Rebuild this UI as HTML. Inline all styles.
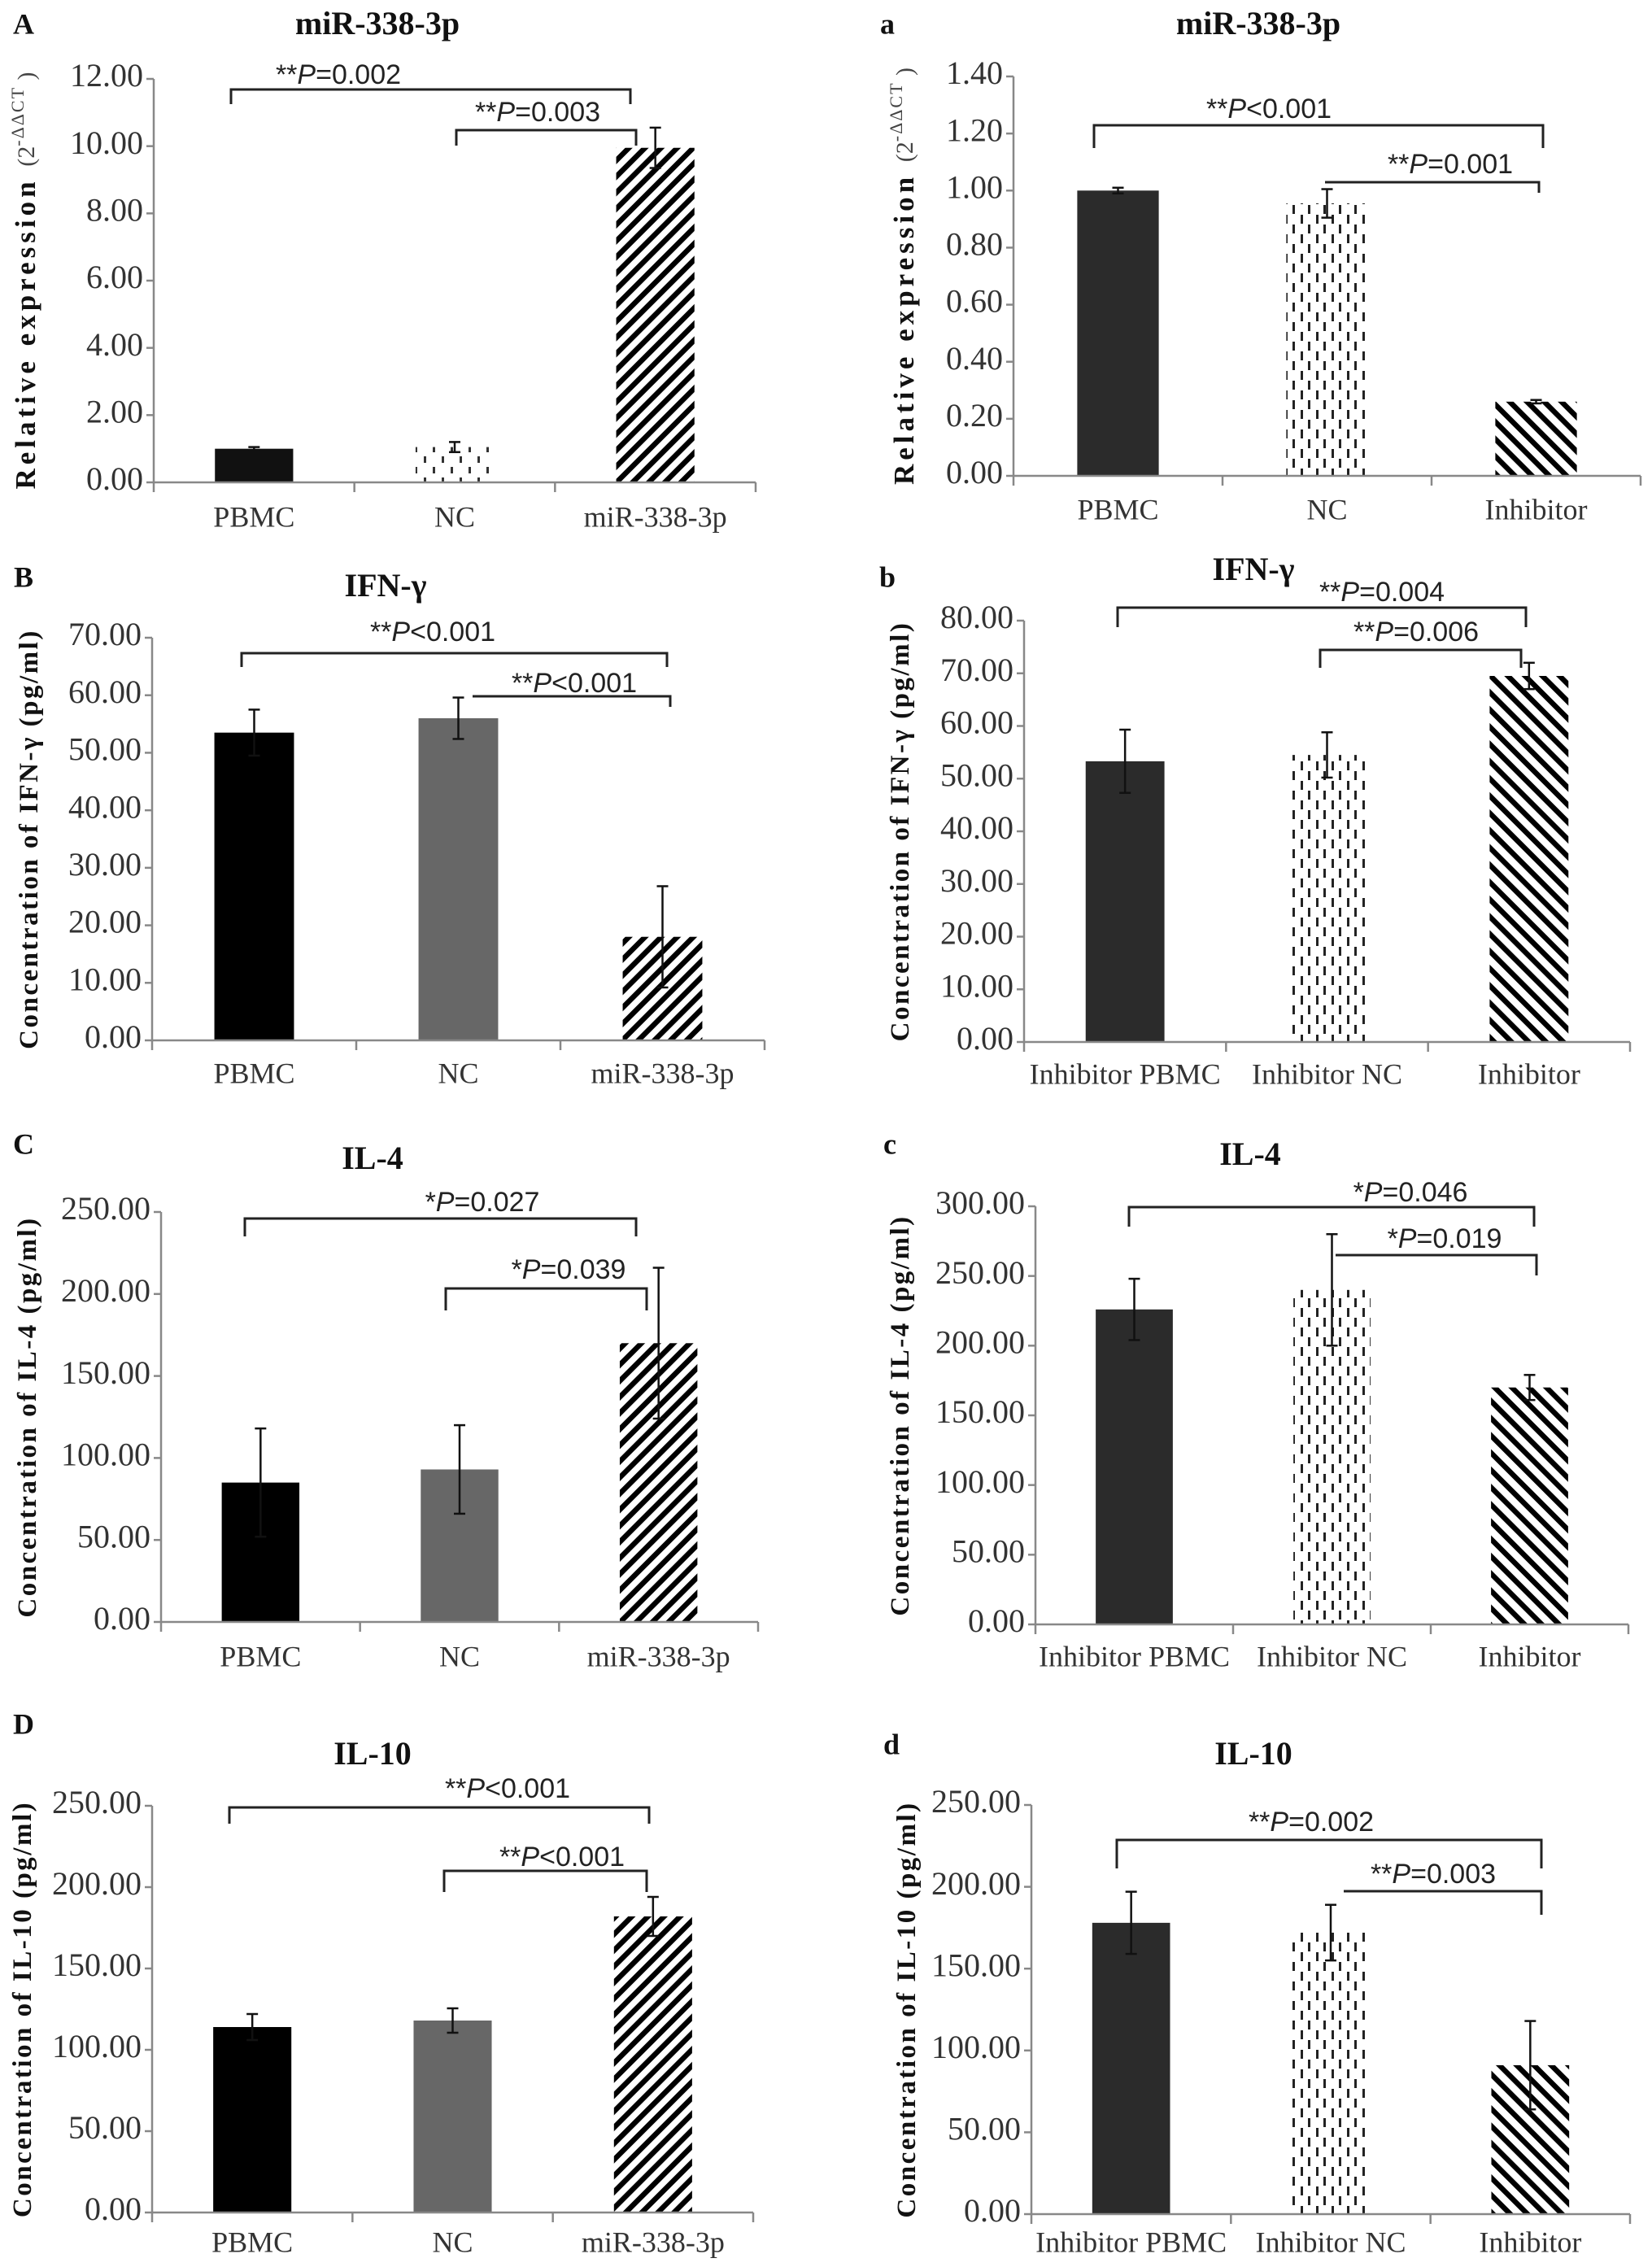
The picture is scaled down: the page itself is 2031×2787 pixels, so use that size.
<!DOCTYPE html>
<html><head><meta charset="utf-8"><style>
html,body{margin:0;padding:0;background:#fff}
svg{display:block}
</style></head><body>
<svg id="fig" xmlns="http://www.w3.org/2000/svg" width="2031" height="2787" viewBox="0 0 2031 2787">
<defs>
<pattern id="hatchF" patternUnits="userSpaceOnUse" width="14" height="14" patternTransform="rotate(45)"><rect x="0" y="0" width="6.5" height="14" fill="#000"/></pattern>
<pattern id="hatchB" patternUnits="userSpaceOnUse" width="15" height="15" patternTransform="rotate(-45)"><rect x="0" y="0" width="6.5" height="15" fill="#000"/></pattern>
<pattern id="dash" patternUnits="userSpaceOnUse" width="19" height="24"><rect x="3" y="0" width="3" height="11" fill="#222"/><rect x="12" y="12" width="3" height="11" fill="#222"/></pattern>
<pattern id="dots" patternUnits="userSpaceOnUse" width="22" height="26"><rect x="4" y="2" width="3" height="8" fill="#333"/><rect x="15" y="15" width="3" height="8" fill="#333"/></pattern>
</defs>
</svg>
<script>
// ---- data ----
const catsLeft = ["PBMC", "NC", "miR-338-3p"];
const catsA = ["PBMC", "NC", "Inhibitor"];
const catsRight = ["Inhibitor PBMC", "Inhibitor NC", "Inhibitor"];
const valsA = [1.0, 1.05, 9.95];
const errA = [0.05, 0.15, 0.6];
const valsa = [1.0, 0.955, 0.26];
const erra = [0.01, 0.05, 0.006];
const valsB = [53.5, 56.0, 18.0];
const errB = [4.0, 3.6, 8.8];
const valsb = [53.3, 54.5, 69.5];
const errb = [6.0, 4.3, 2.5];
const valsC = [85, 93, 170];
const errC = [33, 27, 46];
const valsc = [226, 240, 170];
const errc = [22, 40, 9];
const valsD = [114, 118, 182];
const errD = [8, 7.5, 12];
const valsd = [178, 172, 91];
const errd = [19, 17, 27];
const pLabelsA = ["**P=0.002", "**P=0.003"];
const pLabelsa = ["**P<0.001", "**P=0.001"];
const pLabelsB = ["**P<0.001", "**P<0.001"];
const pLabelsb = ["**P=0.004", "**P=0.006"];
const pLabelsC = ["*P=0.027", "*P=0.039"];
const pLabelsc = ["*P=0.046", "*P=0.019"];
const pLabelsD = ["**P<0.001", "**P<0.001"];
const pLabelsd = ["**P=0.002", "**P=0.003"];

const svg = document.getElementById('fig');
const NS = 'http://www.w3.org/2000/svg';
function mk(tag, attrs, parent){
  const e = document.createElementNS(NS, tag);
  for (const k in attrs) e.setAttribute(k, attrs[k]);
  (parent||svg).appendChild(e);
  return e;
}

const panels = [
 {id:'A', letter:'A', title:'miR-338-3p', cats:catsLeft, vals:valsA, errs:errA, max:12, step:2, x0:189, x1:929, yTop:97, yBase:593,
  fills:['#111','url(#dots)','url(#hatchF)'], yl:'rel', ylx:35, lx:29, ly:33, tx:464, ty:33, xly:639,
  br:[[284,775,110,128,128,416,94],[561,782,160,179,179,661,140]], p:pLabelsA},
 {id:'a', letter:'a', title:'miR-338-3p', cats:catsA, vals:valsa, errs:erra, max:1.4, step:0.2, x0:1246, x1:2017, yTop:94, yBase:585,
  fills:['#2b2b2b','url(#dash)','url(#hatchB)'], yl:'rel', ylx:1115, lx:1091, ly:33, tx:1547, ty:33, xly:630,
  br:[[1345,1897,154,182,182,1560,136],[1629,1892,224,224,237,1783,204]], p:pLabelsa},
 {id:'B', letter:'B', title:'IFN-γ', cats:catsLeft, vals:valsB, errs:errB, max:70, step:10, x0:187, x1:940, yTop:784, yBase:1279,
  fills:['#000','#676767','url(#hatchF)'], yl:'IFN-γ', ylx:38, lx:29, ly:713, tx:474, ty:724, xly:1323,
  br:[[297,820,803,820,820,532,779],[581,824,856,856,869,706,842]], p:pLabelsB},
 {id:'b', letter:'b', title:'IFN-γ', cats:catsRight, vals:valsb, errs:errb, max:80, step:10, x0:1259, x1:2004, yTop:763, yBase:1281,
  fills:['#2b2b2b','url(#dash)','url(#hatchB)'], yl:'IFN-γ', ylx:1109, lx:1091, ly:713, tx:1541, ty:704, xly:1324,
  br:[[1374,1876,747,771,771,1699,730],[1623,1870,799,821,821,1741,779]], p:pLabelsb},
 {id:'C', letter:'C', title:'IL-4', cats:catsLeft, vals:valsC, errs:errC, max:250, step:50, x0:198, x1:932, yTop:1490, yBase:1994,
  fills:['#000','#676767','url(#hatchF)'], yl:'IL-4', ylx:36, lx:29, ly:1410, tx:458, ty:1428, xly:2040,
  br:[[301,782,1498,1520,1520,593,1480],[548,795,1584,1611,1611,699,1563]], p:pLabelsC},
 {id:'c', letter:'c', title:'IL-4', cats:catsRight, vals:valsc, errs:errc, max:300, step:50, x0:1273, x1:2002, yTop:1483, yBase:1997,
  fills:['#2b2b2b','url(#dash)','url(#hatchB)'], yl:'IL-4', ylx:1109, lx:1094, ly:1410, tx:1537, ty:1423, xly:2040,
  br:[[1388,1886,1484,1508,1508,1734,1468],[1642,1889,1543,1543,1568,1776,1525]], p:pLabelsc},
 {id:'D', letter:'D', title:'IL-10', cats:catsLeft, vals:valsD, errs:errD, max:250, step:50, x0:187, x1:926, yTop:2220, yBase:2720,
  fills:['#000','#676767','url(#hatchF)'], yl:'IL-10', ylx:30, lx:29, ly:2123, tx:458, ty:2160, xly:2760,
  br:[[282,798,2222,2242,2242,624,2201],[546,795,2300,2326,2326,691,2285]], p:pLabelsD},
 {id:'d', letter:'d', title:'IL-10', cats:catsRight, vals:valsd, errs:errd, max:250, step:50, x0:1268, x1:2004, yTop:2219, yBase:2722,
  fills:['#2b2b2b','url(#dash)','url(#hatchB)'], yl:'IL-10', ylx:1117, lx:1096, ly:2148, tx:1541, ty:2160, xly:2760,
  br:[[1373,1895,2262,2297,2297,1612,2242],[1652,1895,2325,2325,2354,1762,2306]], p:pLabelsd}
];

panels.forEach(P => {
  const g = mk('g', {});
  
  
  const yScale = v => P.yBase - v / P.max * (P.yBase - P.yTop);
  const cw = (P.x1 - P.x0) / P.cats.length;
  const xCenter = i => P.x0 + cw * (i + 0.5);
  const bw = cw * 0.39;

  const L = mk('text', {x:P.lx, y:P.ly, 'font-family':'Liberation Serif, serif', 'font-size':36, 'font-weight':'bold', 'text-anchor':'middle', 'dominant-baseline':'middle', fill:'#111'}, g);
  L.textContent = P.letter;
  
  
  const T = mk('text', {x:P.tx, y:P.ty, 'font-family':'Liberation Serif, serif', 'font-size':40, 'font-weight':'bold', 'text-anchor':'middle', 'dominant-baseline':'middle', fill:'#111'}, g);
  T.textContent = P.title;
  
  

  const yc = (P.yTop + P.yBase) / 2;
  const YL = mk('text', {x:P.ylx, y:yc, transform:'rotate(-90 ' + P.ylx + ' ' + yc + ')', 'font-family':'Liberation Serif, serif', 'font-size':33, 'text-anchor':'middle', 'dominant-baseline':'middle', fill:'#111'}, g);
  
  
  if (P.yl === 'rel') {
    const t1 = mk('tspan', {'font-weight':'bold', 'letter-spacing':5, 'font-size':35}, YL); t1.textContent = 'Relative expression ';
    const t2 = mk('tspan', {'font-size':30, fill:'#444'}, YL); t2.textContent = ' (2';
    const t3 = mk('tspan', {'font-size':22, dy:-11, fill:'#444', 'letter-spacing':2}, YL); t3.textContent = '-ΔΔCT';
    const t4 = mk('tspan', {'font-size':30, dy:11, fill:'#444'}, YL); t4.textContent = ' )';
  } else {
    const t1 = mk('tspan', {'font-weight':'bold', 'letter-spacing':2.5}, YL); t1.textContent = 'Concentration of ' + P.yl + '  (pg/ml)';
  }

  const n = Math.round(P.max / P.step);
  for (let k = 0; k <= n; k++) {
    const v = k * P.step, y = yScale(v);
    mk('line', {x1:P.x0 - 9, x2:P.x0, y1:y, y2:y, stroke:'#888', 'stroke-width':2.5}, g);
    const t = mk('text', {x:P.x0 - 13, y:y, 'font-family':'Liberation Serif, serif', 'font-size':40, 'text-anchor':'end', 'dominant-baseline':'middle', fill:'#333'}, g);
    t.textContent = v.toFixed(2);
    
    
  }

  P.cats.forEach((c, i) => {
    const v = P.vals[i], e = P.errs[i], cx = xCenter(i);
    const r = mk('rect', {x:cx - bw/2, y:yScale(v), width:bw, height:P.yBase - yScale(v), fill:P.fills[i]}, g);
    
    
    const yh = yScale(v + e), yl = yScale(v - e);
    const eb = mk('g', {stroke:'#111', 'stroke-width':2.5}, g);
    
    
    mk('line', {x1:cx, x2:cx, y1:yh, y2:yl}, eb);
    mk('line', {x1:cx - 7, x2:cx + 7, y1:yh, y2:yh}, eb);
    mk('line', {x1:cx - 7, x2:cx + 7, y1:yl, y2:yl}, eb);
    const xl = mk('text', {x:cx, y:P.xly, 'font-family':'Liberation Serif, serif', 'font-size':36, 'text-anchor':'middle', 'dominant-baseline':'middle', fill:'#333'}, g);
    xl.textContent = c;
    
    
  });

  const ax = mk('g', {stroke:'#888', 'stroke-width':2.5}, g);
  
  
  mk('line', {x1:P.x0, x2:P.x0, y1:P.yTop, y2:P.yBase + 12}, ax);
  mk('line', {x1:P.x0, x2:P.x1, y1:P.yBase, y2:P.yBase}, ax);
  for (let i = 1; i <= P.cats.length; i++) {
    const x = P.x0 + cw * i;
    mk('line', {x1:x, x2:x, y1:P.yBase, y2:P.yBase + 12}, ax);
  }

  P.br.forEach((b, j) => {
    const [xa, xb, yb, ya1, yb1, lx, ly] = b;
    const bg = mk('g', {}, g);
    
    
    mk('polyline', {points: xa + ',' + ya1 + ' ' + xa + ',' + yb + ' ' + xb + ',' + yb + ' ' + xb + ',' + yb1, fill:'none', stroke:'#222', 'stroke-width':3}, bg);
    const lab = P.p[j];
    const idx = lab.indexOf('P');
    const t = mk('text', {x:lx, y:ly, 'font-family':'Liberation Sans, sans-serif', 'font-size':34, 'text-anchor':'middle', 'dominant-baseline':'middle', fill:'#222'}, bg);
    
    
    const s1 = mk('tspan', {}, t); s1.textContent = lab.slice(0, idx);
    const s2 = mk('tspan', {'font-style':'italic'}, t); s2.textContent = 'P';
    const s3 = mk('tspan', {}, t); s3.textContent = lab.slice(idx + 1);
  });
});
</script>
</body></html>
